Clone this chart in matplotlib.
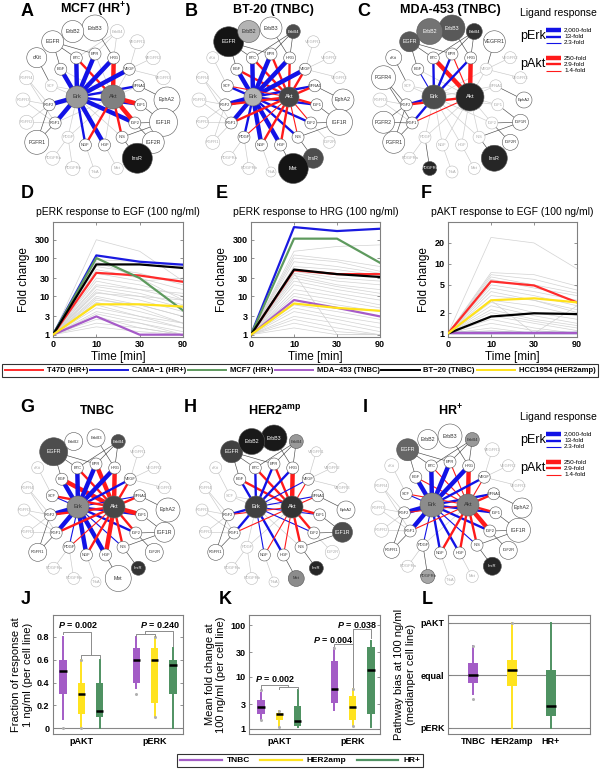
import numpy as np
import matplotlib.pyplot as plt
from matplotlib.patches import Circle
from matplotlib.lines import Line2D
from matplotlib.ticker import NullLocator

plt.rcParams['font.family'] = ['Liberation Sans', 'DejaVu Sans']
plt.rcParams['font.weight'] = 'bold'
plt.rcParams['mathtext.fontset'] = 'custom'
plt.rcParams['mathtext.rm'] = 'Liberation Sans:bold'
plt.rcParams['mathtext.it'] = 'Liberation Sans:italic:bold'
plt.rcParams['mathtext.bf'] = 'Liberation Sans:bold'

# ---------------- network data ----------------
ligands = ['EGF', 'BTC', 'EPR', 'HRG', 'VEGF', 'EFNA1', 'IGF1', 'IGF2', 'INS',
           'HGF', 'NGF', 'PDGF', 'FGF1', 'FGF2', 'SCF']
receptors = ['ErbB3', 'ErbB4', 'VEGFR1', 'VEGFR2', 'VEGFR3', 'EphA2', 'IGF1R',
             'IGF2R', 'InsR', 'Met', 'TrkA', 'PDGFRb', 'PDGFRa', 'FGFR1', 'FGFR2',
             'FGFR3', 'FGFR4', 'cKit', 'EGFR', 'ErbB2']
binding = [('EGF', 'EGFR'), ('BTC', 'EGFR'), ('BTC', 'ErbB4'), ('EPR', 'EGFR'),
           ('EPR', 'ErbB4'), ('HRG', 'ErbB3'), ('HRG', 'ErbB4'), ('VEGF', 'VEGFR1'),
           ('VEGF', 'VEGFR2'), ('VEGF', 'VEGFR3'), ('EFNA1', 'EphA2'), ('IGF1', 'IGF1R'),
           ('IGF2', 'IGF1R'), ('IGF2', 'IGF2R'), ('INS', 'InsR'), ('INS', 'IGF1R'),
           ('HGF', 'Met'), ('NGF', 'TrkA'), ('PDGF', 'PDGFRa'), ('PDGF', 'PDGFRb'),
           ('FGF1', 'FGFR1'), ('FGF1', 'FGFR2'), ('FGF1', 'FGFR3'), ('FGF1', 'FGFR4'),
           ('FGF2', 'FGFR1'), ('FGF2', 'FGFR2'), ('FGF2', 'FGFR3'), ('FGF2', 'FGFR4'),
           ('SCF', 'cKit')]

# response level per ligand (0 none, 1 low, 2 mid, 3 high)
erk_A = [3, 3, 3, 3, 3, 2, 2, 3, 0, 3, 2, 0, 3, 3, 0]
akt_A = [0, 2, 0, 3, 0, 0, 3, 3, 2, 0, 2, 0, 0, 0, 0]
erk_B = [3, 3, 3, 3, 3, 2, 2, 2, 2, 3, 3, 2, 3, 3, 2]
akt_B = [2, 2, 2, 2, 2, 2, 2, 1, 1, 2, 2, 1, 2, 2, 1]
erk_C = [1, 2, 2, 2, 0, 0, 0, 0, 0, 0, 0, 0, 2, 2, 0]
akt_C = [0, 3, 1, 3, 0, 0, 0, 0, 0, 0, 0, 0, 1, 2, 0]
erk_G = [3, 3, 3, 3, 2, 1, 2, 2, 1, 3, 3, 1, 3, 3, 1]
akt_G = [3, 2, 3, 3, 2, 2, 3, 2, 2, 3, 2, 1, 2, 2, 2]
erk_H = [2, 2, 2, 2, 1, 1, 1, 1, 0, 2, 1, 0, 2, 2, 0]
akt_H = [2, 2, 2, 3, 1, 1, 2, 2, 2, 1, 1, 0, 1, 1, 0]
erk_I = [3, 3, 3, 3, 2, 2, 2, 2, 1, 2, 2, 1, 3, 3, 1]
akt_I = [1, 1, 1, 3, 1, 2, 2, 3, 2, 2, 2, 0, 1, 1, 1]

# receptor node size (radius) and darkness
rsize_A = [13, 7, 7, 7, 7, 13, 14, 11, 15, 6, 6, 7, 7, 12, 7, 7, 7, 10, 11, 11]
rshade_A = [0, 0, 0, 0, 0, 0, 0, 0, 0.92, 0, 0, 0, 0, 0, 0, 0, 0, 0, 0, 0]
rsize_B = [11, 7, 6, 6, 6, 11, 13, 6, 10, 15, 5, 6, 7, 7, 6, 7, 6, 6, 15, 11]
rshade_B = [0, 0.7, 0, 0, 0, 0, 0, 0, 0.7, 0.92, 0, 0, 0, 0, 0, 0, 0, 0, 0.92, 0.3]
rsize_C = [13, 8, 11, 6, 6, 8, 8, 8, 13, 6, 6, 7, 6, 11, 11, 7, 12, 8, 10, 13]
rshade_C = [0.65, 0.8, 0, 0, 0, 0, 0, 0, 0.85, 0, 0, 0.85, 0, 0, 0, 0, 0, 0, 0.65, 0.55]
rsize_G = [9, 7, 6, 6, 6, 12, 10, 9, 7, 13, 5, 6, 6, 9, 6, 6, 6, 6, 14, 9]
rshade_G = [0, 0.7, 0, 0, 0, 0, 0, 0, 0.8, 0, 0, 0, 0, 0, 0, 0, 0, 0, 0.7, 0]
rsize_H = [13, 7, 5, 5, 5, 9, 10, 7, 7, 8, 5, 6, 6, 8, 6, 6, 6, 6, 11, 13]
rshade_H = [0.9, 0.4, 0, 0, 0, 0, 0.7, 0, 0.85, 0.45, 0, 0, 0, 0, 0, 0, 0, 0, 0.75, 0.9]
rsize_I = [12, 7, 7, 6, 6, 10, 12, 9, 9, 6, 5, 7, 6, 8, 7, 7, 7, 7, 11, 10]
rshade_I = [0, 0.4, 0, 0, 0, 0, 0, 0, 0.85, 0, 0, 0.35, 0, 0, 0, 0, 0, 0, 0.6, 0]

# Erk shade, Erk radius, Akt shade, Akt radius
core_A = (0.4, 11, 0.5, 12)
core_B = (0.3, 9, 0.72, 10)
core_C = (0.7, 12, 0.85, 14)
core_G = (0.45, 11, 0.72, 11)
core_H = (0.75, 11, 0.8, 11)
core_I = (0.45, 12, 0.5, 11)

erk_legend = ['2,000-fold', '13-fold', '2.3-fold']
akt_legend = ['250-fold', '2.9-fold', '1.4-fold']

# ---------------- time course data ----------------
times = ['0', '10', '30', '90']
cell_lines = ['T47D (HR+)', 'CAMA\u22121 (HR+)', 'MCF7 (HR+)', 'MDA\u2212453 (TNBC)',
              'BT\u221220 (TNBC)', 'HCC1954 (HER2amp)']
line_colors = ['#ff2b2b', '#1a1ae0', '#5e9a5e', '#a65bc8', '#000000', '#ffe21a']

erk_egf = [[1, 41, 35, 24], [1, 117, 80, 67], [1, 100, 30, 4.3],
           [1, 3, 1, 1], [1, 68, 68, 55], [1, 6.2, 6.2, 5.4]]
erk_egf_grey = [[1, 300, 150, 25], [1, 90, 80, 60], [1, 60, 40, 20], [1, 50, 30, 15],
                [1, 30, 20, 10], [1, 25, 15, 8], [1, 20, 15, 12], [1, 18, 12, 6],
                [1, 15, 10, 5], [1, 13, 8, 4], [1, 12, 10, 8], [1, 10, 6, 3],
                [1, 9, 5, 2], [1, 8, 6, 3], [1, 7, 4, 2], [1, 6, 3, 1.5],
                [1, 5, 3, 2], [1, 4, 2.5, 1.5], [1, 3.5, 2, 1], [1, 3, 1.5, 1],
                [1, 2.5, 2, 1.2], [1, 2, 1.5, 1], [1, 1.6, 1.2, 1], [1, 80, 30, 8],
                [1, 40, 25, 30]]

erk_hrg = [[1, 48, 38, 38], [1, 640, 505, 580], [1, 320, 320, 75],
           [1, 8, 5, 3], [1, 50, 38, 32], [1, 6.5, 5, 4.2]]
erk_hrg_grey = [[1, 150, 200, 220], [1, 120, 90, 60], [1, 100, 80, 45], [1, 80, 60, 40],
                [1, 60, 50, 35], [1, 45, 30, 25], [1, 40, 25, 20], [1, 35, 20, 15],
                [1, 30, 18, 12], [1, 25, 15, 10], [1, 20, 12, 8], [1, 15, 10, 6],
                [1, 12, 8, 5], [1, 10, 6, 4], [1, 8, 5, 3], [1, 6, 4, 2.5],
                [1, 5, 3, 2], [1, 4, 2.5, 1.5], [1, 3, 2, 1.2], [1, 2.5, 1.5, 1],
                [1, 2, 1.2, 1], [1, 1.5, 1, 1], [1, 40, 1, 1]]

akt_egf = [[1, 5.6, 4.9, 2.8], [1, 1, 1, 1], [1, 1, 1, 1],
           [1, 1, 1, 1], [1, 1.75, 1.95, 1.9], [1, 3.0, 3.2, 2.8]]
akt_egf_grey = [[1, 24, 20, 8.5], [1, 7.5, 7, 4.8], [1, 7, 6, 4.2], [1, 6.5, 5, 3.8],
                [1, 6, 4.5, 3.5], [1, 5, 4, 3], [1, 4.5, 3.5, 2.5], [1, 4, 3, 2.2],
                [1, 3.5, 3, 2], [1, 3, 2.5, 1.8], [1, 2.8, 2, 1.6], [1, 2.5, 1.8, 1.4],
                [1, 2.2, 1.6, 1.3], [1, 2, 1.5, 1.2], [1, 1.8, 1.4, 1.1], [1, 1.6, 1.2, 1],
                [1, 1.4, 1.1, 1], [1, 1.2, 1, 1], [1, 1.1, 1, 2.5], [1, 3, 1, 1]]

# ---------------- subtype box data ----------------
subtypes = ['TNBC', 'HER2amp', 'HR+']
sub_colors = ['#a35cc6', '#ffe31f', '#4f9262']
readouts = ['pAKT', 'pERK']

# J: fraction of response at 1 ng/ml  (pAKT x3, pERK x3)
j_whislo = [0.08, 0.0, 0.0, 0.35, 0.10, 0.0]
j_q1 = [0.30, 0.125, 0.10, 0.40, 0.22, 0.30]
j_med = [0.50, 0.30, 0.15, 0.60, 0.60, 0.55]
j_q3 = [0.60, 0.40, 0.40, 0.70, 0.70, 0.60]
j_whishi = [0.80, 0.60, 0.60, 0.80, 0.80, 0.70]
j_fliers = [[0.0], [0.0, 0.6], [], [0.3], [0.1, 0.8], []]

# K: mean fold change at 100 ng/ml
k_whislo = [1.45, 1.1, 1.1, 2.3, 1.15, 1.1]
k_q1 = [1.9, 1.5, 1.15, 3.2, 1.5, 1.9]
k_med = [2.6, 1.9, 1.4, 5.9, 2.65, 13.5]
k_q3 = [3.6, 2.05, 2.75, 20, 4.2, 38]
k_whishi = [4.8, 2.2, 5.7, 36, 5.8, 50]
k_fliers = [[5.5, 1.45], [2.2, 1.1], [], [36], [5.8, 1.15], []]

# L: pathway bias (-1 pERK, 0 equal, 1 pAKT)
l_whislo = [-0.35, -1, -1]
l_q1 = [-0.15, -0.21, -0.77]
l_med = [0.0, 0.1, -0.58]
l_q3 = [0.24, 0.29, 0.11]
l_whishi = [0.55, 1, 1]
l_fliers = [[-0.45, 0.55], [1.0], []]

# ---------------- figure ----------------
W, H = 600, 771
fig = plt.figure(figsize=(6, 7.71), dpi=100)
ov = fig.add_axes([0, 0, 1, 1])
ov.set_xlim(0, W)
ov.set_ylim(H, 0)
ov.axis('off')

widths = [0.5, 0.8, 1.7, 3.2]


def px_rect(l, t, r, b):
    return [l / W, 1 - b / H, (r - l) / W, (b - t) / H]


def draw_network(cx, cy, erk, akt, rsize, rshade, core):
    lp, rp = {}, {}
    for i, n in enumerate(ligands):
        a = np.deg2rad(138 - 24 * i)
        lp[n] = (cx + 46 * np.cos(a), cy - 46 * np.sin(a))
    for i, n in enumerate(receptors):
        a = np.deg2rad(90 - 18 * i)
        rp[n] = (cx + 72 * np.cos(a), cy - 72 * np.sin(a))
    rs = dict(zip(receptors, rsize))
    rsh = dict(zip(receptors, rshade))
    erk_xy = (cx - 18, cy - 3)
    akt_xy = (cx + 18, cy - 3)

    for lg, rc in binding:
        faded = rs[rc] <= 7 and rsh[rc] == 0
        ov.plot([lp[lg][0], rp[rc][0]], [lp[lg][1], rp[rc][1]],
                color='#c8c8c8' if faded else '#4a4a4a', lw=0.45, zorder=1)
    for i, n in enumerate(ligands):
        for lev, tgt, col in ((erk[i], erk_xy, '#1212e6'), (akt[i], akt_xy, '#ff1a1a')):
            ov.plot([lp[n][0], tgt[0]], [lp[n][1], tgt[1]],
                    color=col if lev else '#d0d0d0', lw=widths[lev],
                    zorder=3 if lev else 2, solid_capstyle='butt')

    for n in receptors:
        sh = rsh[n]
        faded = rs[n] <= 7 and sh == 0
        ec = '#bbbbbb' if faded else '#555555'
        ov.add_patch(Circle(rp[n], rs[n], fc=str(1 - sh), ec=ec, lw=0.4, zorder=5))
        tc = 'white' if sh > 0.5 else ('#aaaaaa' if faded else '#333333')
        ov.text(rp[n][0], rp[n][1], n, fontsize=3.8 if rs[n] >= 10 else 3.0,
                color=tc, fontweight='normal', ha='center', va='center', zorder=6)
    for i, n in enumerate(ligands):
        faded = erk[i] == 0 and akt[i] == 0
        ov.add_patch(Circle(lp[n], 6, fc='white', ec='#bbbbbb' if faded else '#555555',
                            lw=0.4, zorder=5))
        ov.text(lp[n][0], lp[n][1], n, fontsize=2.9, fontweight='normal',
                color='#aaaaaa' if faded else '#333333', ha='center', va='center', zorder=6)
    for xy, sh, r, lab in ((erk_xy, core[0], core[1], 'Erk'), (akt_xy, core[2], core[3], 'Akt')):
        ov.add_patch(Circle(xy, r, fc=str(1 - sh), ec='#666666', lw=0.4, zorder=7))
        ov.text(xy[0], xy[1], lab, fontsize=4.2, fontweight='normal',
                color='white' if sh > 0.55 else '#333333', ha='center', va='center', zorder=8)


def net_legend(y):
    ov.text(558, y, 'Ligand response', fontsize=7.5, fontweight='normal', ha='center', va='center')
    for label, labels, col, ty, bars in (('pErk', erk_legend, '#1212e6', y + 23, (17, 24, 30)),
                                         ('pAkt', akt_legend, '#ff1a1a', y + 51, (45, 51, 58))):
        ov.text(520, ty, label, fontsize=9, fontweight='normal', ha='left', va='center')
        for lev, dy, txt in zip((3, 2, 1), bars, labels):
            ov.plot([546, 561], [y + dy, y + dy], color=col, lw=widths[lev], solid_capstyle='butt')
            ov.text(564, y + dy, txt, fontsize=4.6, fontweight='normal', va='center')


draw_network(95, 100, erk_A, akt_A, rsize_A, rshade_A, core_A)
draw_network(271, 100, erk_B, akt_B, rsize_B, rshade_B, core_B)
draw_network(452, 100, erk_C, akt_C, rsize_C, rshade_C, core_C)
draw_network(96, 510, erk_G, akt_G, rsize_G, rshade_G, core_G)
draw_network(274, 510, erk_H, akt_H, rsize_H, rshade_H, core_H)
draw_network(450, 508, erk_I, akt_I, rsize_I, rshade_I, core_I)
net_legend(13)
net_legend(417)

for x, y, t in ((95, 10, 'MCF7 (HR$^{+}$)'), (273, 10, 'BT-20 (TNBC)'), (450, 10, 'MDA-453 (TNBC)'),
                (97, 411, 'TNBC'), (275, 411, 'HER2$^{\\mathrm{amp}}$'), (450, 411, 'HR$^{+}$')):
    ov.text(x, y, t, fontsize=9, ha='center', va='center')

for x, y, t in ((27, 11, 'A'), (191, 11, 'B'), (364, 11, 'C'),
                (27, 193, 'D'), (222, 193, 'E'), (426, 193, 'F'),
                (27, 407, 'G'), (190, 407, 'H'), (365, 407, 'I'),
                (26, 600, 'J'), (225, 599, 'K'), (427, 600, 'L')):
    ov.text(x, y, t, fontsize=13, ha='center', va='center')


def style(ax):
    for s in ax.spines.values():
        s.set_color('#808080')
        s.set_linewidth(0.8)
    ax.tick_params(direction='in', length=2, width=0.6, labelsize=6.5,
                   top=True, right=True, color='#808080', pad=2.5)


def fold_panel(rect, title, grey, lines, yticks, ylim):
    ax = fig.add_axes(rect)
    x = np.arange(len(times))
    for g in grey:
        ax.plot(x, g, color='#d2d2d2', lw=0.5, zorder=1)
    for vals, c in zip(lines, line_colors):
        ax.plot(x, vals, color=c, lw=1.6, zorder=3)
    ax.set_yscale('log')
    ax.set_ylim(*ylim)
    ax.set_xlim(0, 3)
    ax.set_xticks(x, times)
    ax.set_yticks(yticks, [str(t) for t in yticks])
    ax.yaxis.set_minor_locator(NullLocator())
    ax.set_title(title, fontsize=7.5, pad=5)
    ax.set_xlabel('Time [min]', fontsize=8.5, labelpad=1)
    ax.set_ylabel('Fold change', fontsize=8.5, labelpad=3)
    style(ax)
    return ax


fold_panel(px_rect(53, 222, 183, 337), 'pERK response to EGF (100 ng/ml)',
           erk_egf_grey, erk_egf, [1, 3, 10, 30, 100, 300], (0.87, 870))
fold_panel(px_rect(251, 222, 380, 337), 'pERK response to HRG (100 ng/ml)',
           erk_hrg_grey, erk_hrg, [1, 3, 10, 30, 100, 300], (0.87, 870))
fold_panel(px_rect(448, 222, 577, 337), 'pAKT response to EGF (100 ng/ml)',
           akt_egf_grey, akt_egf, [1, 2, 5, 10, 20], (0.89, 40))

handles = [Line2D([], [], color=c, lw=1.4) for c in line_colors]
leg = fig.legend(handles, cell_lines, loc='center', ncol=6, mode='expand',
                 bbox_to_anchor=(2 / W, 1 - 378 / H, 596 / W, 15 / H), fontsize=5.5,
                 fancybox=False, edgecolor='black', handlelength=5, handletextpad=0.5,
                 borderaxespad=0, borderpad=0.35, columnspacing=0.8)
leg.get_frame().set_linewidth(0.8)


def box_panel(ax, pos, whislo, q1, med, q3, whishi, fliers, colors, width):
    for i in range(len(pos)):
        st = [dict(med=med[i], q1=q1[i], q3=q3[i], whislo=whislo[i],
                   whishi=whishi[i], fliers=fliers[i])]
        ax.bxp(st, positions=[pos[i]], widths=width, patch_artist=True, showcaps=False,
               boxprops=dict(facecolor=colors[i], edgecolor='none'),
               whiskerprops=dict(color=colors[i], lw=1.4),
               medianprops=dict(color='black', lw=1.8),
               flierprops=dict(marker='o', markersize=2.2, markerfacecolor='#b0b0b0',
                               markeredgecolor='none'),
               manage_ticks=False)


def bracket(ax, xs, ys):
    ax.plot(xs, ys, color='#8c8c8c', lw=0.7, zorder=4)


pos6 = [1, 2, 3, 5, 6, 7]
col6 = sub_colors * 2
ptxt = '$\\mathit{P}$ = '

# J
axJ = fig.add_axes(px_rect(53, 615, 183, 734))
axJ.axhline(0, color='#888888', lw=0.8, zorder=0)
box_panel(axJ, pos6, j_whislo, j_q1, j_med, j_q3, j_whishi, j_fliers, col6, 0.4)
axJ.set_xlim(0.45, 7.55)
axJ.set_ylim(-0.05, 0.99)
axJ.set_xticks([2, 6], readouts)
axJ.set_yticks([0, 0.2, 0.4, 0.6, 0.8], ['0', '0.2', '0.4', '0.6', '0.8'])
axJ.set_ylabel('Fraction of response at\n1 ng/ml (per cell line)', fontsize=8, labelpad=3)
bracket(axJ, [2, 2, 3, 3], [0.615, 0.64, 0.64, 0.615])
bracket(axJ, [1, 1, 2.5, 2.5], [0.82, 0.845, 0.845, 0.64])
bracket(axJ, [5, 5, 6, 6], [0.81, 0.825, 0.825, 0.81])
bracket(axJ, [5.5, 5.5, 7, 7], [0.825, 0.85, 0.85, 0.72])
axJ.text(1.8, 0.9, ptxt + '0.002', fontsize=6.5, ha='center', va='center')
axJ.text(6.3, 0.9, ptxt + '0.240', fontsize=6.5, ha='center', va='center')
style(axJ)
axJ.tick_params(axis='x', length=0)

# K
axK = fig.add_axes(px_rect(249, 615, 380, 734))
axK.axhline(1, color='#888888', lw=0.8, zorder=0)
box_panel(axK, pos6, k_whislo, k_q1, k_med, k_q3, k_whishi, k_fliers, col6, 0.4)
axK.set_yscale('log')
axK.set_xlim(0.35, 7.5)
axK.set_ylim(0.79, 158)
axK.set_xticks([2, 6], readouts)
axK.set_yticks([1, 3, 10, 30, 100], ['1', '3', '10', '30', '100'])
axK.yaxis.set_minor_locator(NullLocator())
axK.set_ylabel('Mean fold change at\n100 ng/ml (per cell line)', fontsize=8, labelpad=3)
bracket(axK, [2, 2, 3, 3], [5.9, 6.3, 6.3, 5.9])
bracket(axK, [1, 1, 2.5, 2.5], [5.9, 7.0, 7.0, 6.3])
bracket(axK, [5, 5, 6, 6], [39, 43, 43, 6.3])
bracket(axK, [6, 6, 7, 7], [43, 84, 84, 56])
axK.text(1.8, 9.0, ptxt + '0.002', fontsize=6.5, ha='center', va='center')
axK.text(4.95, 53, ptxt + '0.004', fontsize=6.5, ha='center', va='center')
axK.text(6.25, 103, ptxt + '0.038', fontsize=6.5, ha='center', va='center')
style(axK)
axK.tick_params(axis='x', length=0)

# L
axL = fig.add_axes(px_rect(448, 615, 590, 734))
for yv in (-1, 0, 1):
    axL.axhline(yv, color='#888888', lw=0.8, zorder=0)
box_panel(axL, [1, 2, 3], l_whislo, l_q1, l_med, l_q3, l_whishi, l_fliers, sub_colors, 0.27)
axL.set_xlim(0.36, 4.0)
axL.set_ylim(-1.12, 1.15)
axL.set_xticks([1, 2, 3], subtypes)
axL.set_yticks([-1, 0, 1], ['pERK', 'equal', 'pAKT'])
axL.set_ylabel('Pathway bias at 100 ng/ml\n(medianper cell line)', fontsize=8, labelpad=3)
style(axL)
axL.tick_params(axis='x', length=0)

handles2 = [Line2D([], [], color=c, lw=1.6) for c in sub_colors]
leg2 = fig.legend(handles2, subtypes, loc='center', ncol=3, mode='expand',
                  bbox_to_anchor=(177 / W, 1 - 768 / H, 246 / W, 15 / H), fontsize=6,
                  fancybox=False, edgecolor='black', handlelength=5, handletextpad=0.6,
                  borderaxespad=0, borderpad=0.35, columnspacing=1)
leg2.get_frame().set_linewidth(0.8)

fig.savefig('out.png', dpi=100)
